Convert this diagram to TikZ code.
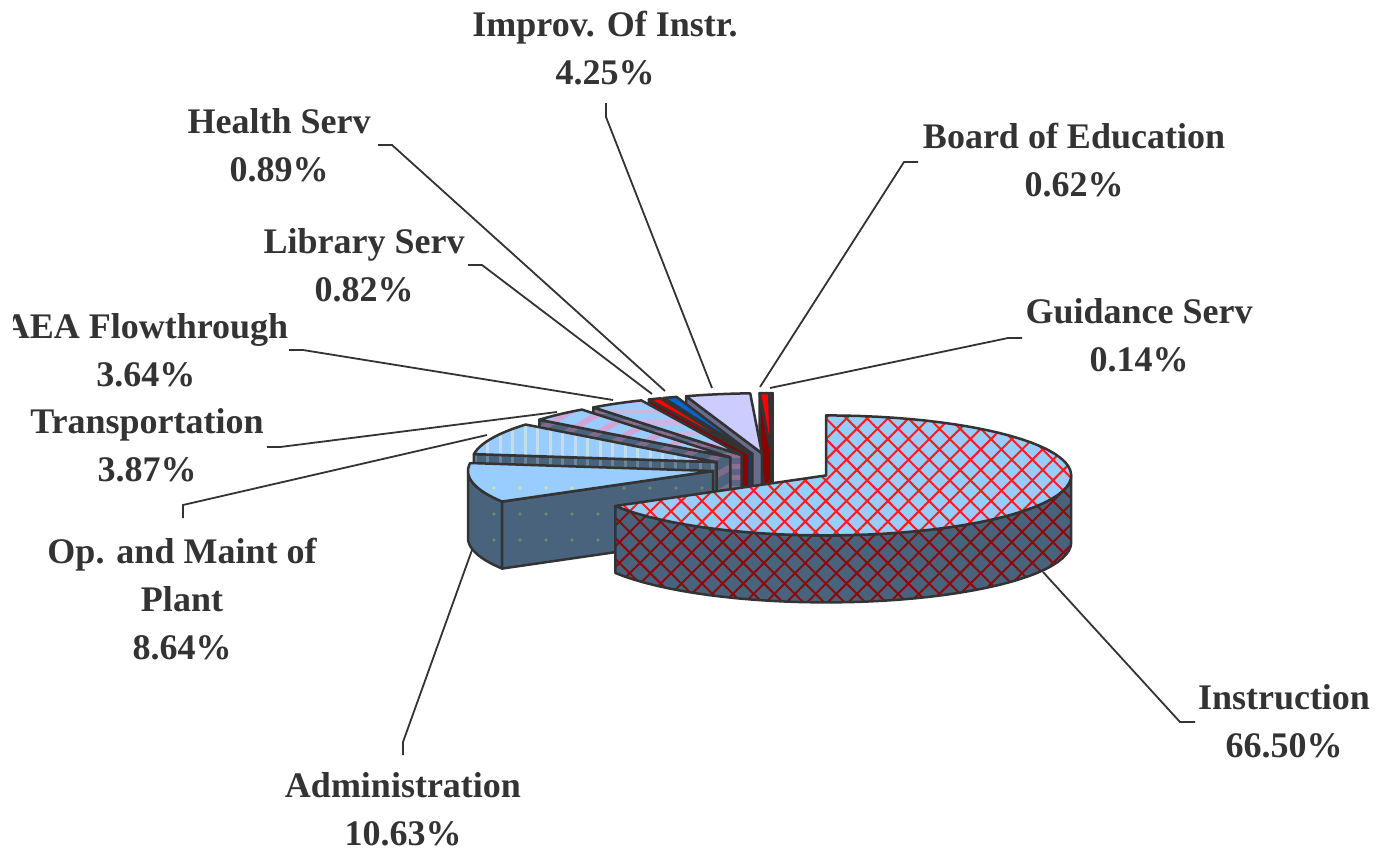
\documentclass[tikz,border=0pt]{standalone}
\usepackage{fontspec}
\setmainfont{Liberation Serif}
\usetikzlibrary{patterns.meta}
\definecolor{topblue}{HTML}{99CCFF}
\definecolor{slate}{HTML}{4A637C}
\definecolor{labelgray}{HTML}{333333}
\definecolor{edgegray}{HTML}{333333}
\definecolor{instrred}{HTML}{FF1A1A}
\definecolor{instrdark}{HTML}{8B0A0A}
\definecolor{admindot}{HTML}{C8E6A0}
\definecolor{admindotdark}{HTML}{6E8870}
\definecolor{opmstripe}{HTML}{C4DDE6}
\definecolor{opmstripedark}{HTML}{6C8598}
\definecolor{transstripe}{HTML}{CFA6D6}
\definecolor{transstripedark}{HTML}{7D6A8C}
\definecolor{aeastripe}{HTML}{CDB6E2}
\definecolor{aeaside}{HTML}{5A6585}
\definecolor{aeastripedark}{HTML}{8A6F8F}
\definecolor{libtopc}{HTML}{FF0000}
\definecolor{libsidec}{HTML}{8B0000}
\definecolor{healthtopc}{HTML}{0066CC}
\definecolor{healthsidec}{HTML}{0050A8}
\definecolor{improvtopc}{HTML}{CCCCFF}
\definecolor{improvsidec}{HTML}{6B6B8F}
\definecolor{boardtopc}{HTML}{FF0000}
\definecolor{boardsidec}{HTML}{8B0000}
\definecolor{guidtopc}{HTML}{FFFF00}
\definecolor{guidsidec}{HTML}{808000}
\newcommand\pRX{245}
\newcommand\pRY{60}
\newcommand\pH{67}
% top face of a slice: centre x, centre y, start angle, end angle, style
\newcommand\slicetop[5]{\path[#5] (#1,#2) -- plot[domain=#3:#4,samples=60] ({#1+\pRX*cos(\x)},{#2-\pRY*sin(\x)}) -- cycle;}
% radial cut face: centre x, centre y, angle, style
\newcommand\sliceface[4]{\path[#4] (#1,#2) -- ({#1+\pRX*cos(#3)},{#2-\pRY*sin(#3)}) -- ++(0,\pH) -- (#1,#2+\pH) -- cycle;}
% outer (cylindrical) face: centre x, centre y, from, to, style
\newcommand\slicecyl[5]{\path[#5] plot[domain=#3:#4,samples=40] ({#1+\pRX*cos(\x)},{#2-\pRY*sin(\x)}) -- plot[domain=#4:#3,samples=40] ({#1+\pRX*cos(\x)},{#2-\pRY*sin(\x)+\pH}) -- cycle;}
\tikzset{
  edge/.style={draw=edgegray, line width=2.5pt, line join=round},
  instrtop/.style={edge, preaction={fill=topblue},
    preaction={pattern={Lines[angle=45,distance=14.6pt,line width=2pt]}, pattern color=instrred},
    pattern={Lines[angle=-45,distance=14.6pt,line width=2pt]}, pattern color=instrred},
  instrside/.style={edge, preaction={fill=slate},
    preaction={pattern={Lines[angle=45,distance=14.6pt,line width=2pt]}, pattern color=instrdark},
    pattern={Lines[angle=-45,distance=14.6pt,line width=2pt]}, pattern color=instrdark},
  admintop/.style={edge, preaction={fill=topblue}, pattern={Dots[distance=26pt,radius=1.8pt]}, pattern color=admindot},
  adminside/.style={edge, preaction={fill=slate}, pattern={Dots[distance=26pt,radius=1.8pt]}, pattern color=admindotdark},
  opmtop/.style={edge, preaction={fill=topblue}, pattern={Lines[angle=90,distance=12.5pt,line width=3pt]}, pattern color=opmstripe},
  opmside/.style={edge, preaction={fill=slate}, pattern={Lines[angle=90,distance=12.5pt,line width=3pt]}, pattern color=opmstripedark},
  transtop/.style={edge, preaction={fill=topblue}, pattern={Lines[angle=30,distance=16pt,line width=6pt]}, pattern color=transstripe},
  transside/.style={edge, preaction={fill=slate}, pattern={Lines[angle=30,distance=16pt,line width=6pt]}, pattern color=transstripedark},
  aeatop/.style={edge, preaction={fill=topblue}, pattern={Lines[angle=0,distance=11pt,line width=5pt]}, pattern color=aeastripe},
  aeasideface/.style={edge, preaction={fill=aeaside}, pattern={Lines[angle=0,distance=11pt,line width=5pt]}, pattern color=aeastripedark},
  libtop/.style={edge, fill=libtopc},
  libside/.style={edge, fill=libsidec},
  healthtop/.style={edge, fill=healthtopc},
  healthside/.style={edge, fill=healthsidec},
  improvtop/.style={edge, fill=improvtopc},
  improvside/.style={edge, fill=improvsidec},
  boardtop/.style={edge, fill=boardtopc},
  boardside/.style={edge, fill=boardsidec},
  guidtop/.style={edge, fill=guidtopc},
  guidside/.style={edge, fill=guidsidec},
  lbl/.style={anchor=base, inner sep=0pt, text=labelgray, font=\fontsize{36}{48}\selectfont\bfseries},
  leader/.style={draw=edgegray, line width=1.8pt},
}
\begin{document}
\begin{tikzpicture}[x=1pt,y=-1pt]
\useasboundingbox (0,0) rectangle (1376,852);
\fill[white] (0,0) rectangle (1376,852);

% --- slices, back to front ---
% Guidance Serv
\sliceface{772.7}{453}{90.504}{guidside}
\slicetop{772.7}{453}{90}{90.504}{guidtop}
% Board of Education
\sliceface{771.3}{453}{92.736}{boardside}
\slicetop{771.3}{453}{90.504}{92.736}{boardtop}
% Improv. Of Instr.
\sliceface{761.9}{453.25}{108.036}{improvside}
\slicetop{761.9}{453.25}{92.736}{108.036}{improvtop}
% Health Serv
\sliceface{752.4}{453.9}{111.24}{healthside}
\slicetop{752.4}{453.9}{108.036}{111.24}{healthtop}
% Library Serv
\sliceface{749.3}{454.2}{114.192}{libside}
\slicetop{749.3}{454.2}{111.24}{114.192}{libtop}
% AEA Flowthrough
\sliceface{741.7}{455.1}{127.296}{aeasideface}
\slicetop{741.7}{455.1}{114.192}{127.296}{aeatop}
% Transportation
\sliceface{730.3}{457.3}{141.228}{transside}
\slicetop{730.3}{457.3}{127.296}{141.228}{transtop}
% Op. and Maint of Plant
\sliceface{716.7}{462.1}{172.332}{opmside}
\slicetop{716.7}{462.1}{141.228}{172.332}{opmtop}
% Administration
\slicecyl{713}{471}{180}{210.6}{adminside}
\sliceface{713}{471}{210.6}{adminside}
\slicetop{713}{471}{172.332}{210.6}{admintop}
% Instruction
\slicecyl{826.2}{475.4}{-149.4}{0}{instrside}
\slicetop{826.2}{475.4}{-149.4}{90}{instrtop}

% --- labels ---
\node[lbl] (improvL) at (605,36) {\begin{tabular}[t]{@{}c@{}}Improv. Of Instr.\\4.25\%\end{tabular}};
\node[lbl] (healthL) at (279,133) {\begin{tabular}[t]{@{}c@{}}Health Serv\\0.89\%\end{tabular}};
\node[lbl] (libL) at (364,253) {\begin{tabular}[t]{@{}c@{}}Library Serv\\0.82\%\end{tabular}};
\begin{scope}
\clip (13,0) rectangle (1376,852);
\node[lbl] (aeaL) at (146,338) {\begin{tabular}[t]{@{}c@{}}AEA Flowthrough\\3.64\%\end{tabular}};
\end{scope}
\node[lbl] (transL) at (147,433) {\begin{tabular}[t]{@{}c@{}}Transportation\\3.87\%\end{tabular}};
\node[lbl] (opmL) at (182,563) {\begin{tabular}[t]{@{}c@{}}Op. and Maint of\\Plant\\8.64\%\end{tabular}};
\node[lbl] (adminL) at (403,797) {\begin{tabular}[t]{@{}c@{}}Administration\\10.63\%\end{tabular}};
\node[lbl] (instrL) at (1284,709) {\begin{tabular}[t]{@{}c@{}}Instruction\\66.50\%\end{tabular}};
\node[lbl] (boardL) at (1074,148) {\begin{tabular}[t]{@{}c@{}}Board of Education\\0.62\%\end{tabular}};
\node[lbl] (guidL) at (1139,323) {\begin{tabular}[t]{@{}c@{}}Guidance Serv\\0.14\%\end{tabular}};

% --- leader lines ---
\coordinate (improvT) at (606,103);  \coordinate (improvP) at (712,388);
\coordinate (healthT) at (378,145);  \coordinate (healthP) at (665,391);
\coordinate (libT) at (468,265);     \coordinate (libP) at (652,394);
\coordinate (aeaT) at (289,350);     \coordinate (aeaP) at (613,400);
\coordinate (transT) at (267,447);   \coordinate (transP) at (557,412);
\coordinate (opmT) at (183,518);     \coordinate (opmP) at (487,435);
\coordinate (adminT) at (403,755);   \coordinate (adminP) at (472,550);
\coordinate (instrT) at (1195,722);  \coordinate (instrP) at (1043,572);
\coordinate (boardT) at (918,162);   \coordinate (boardP) at (760,387);
\coordinate (guidT) at (1022,338);   \coordinate (guidP) at (770,388);
\draw[leader] (improvT) -- ++(0,14) -- (improvP);
\draw[leader] (healthT) -- ++(14,0) -- (healthP);
\draw[leader] (libT) -- ++(14,0) -- (libP);
\draw[leader] (aeaT) -- ++(14,0) -- (aeaP);
\draw[leader] (transT) -- ++(13,0) -- (transP);
\draw[leader] (opmT) -- ++(0,-13) -- (opmP);
\draw[leader] (adminT) -- ++(0,-13) -- (adminP);
\draw[leader] (instrT) -- ++(-15,0) -- (instrP);
\draw[leader] (boardT) -- ++(-14,0) -- (boardP);
\draw[leader] (guidT) -- ++(-14,0) -- (guidP);
\end{tikzpicture}
\end{document}
